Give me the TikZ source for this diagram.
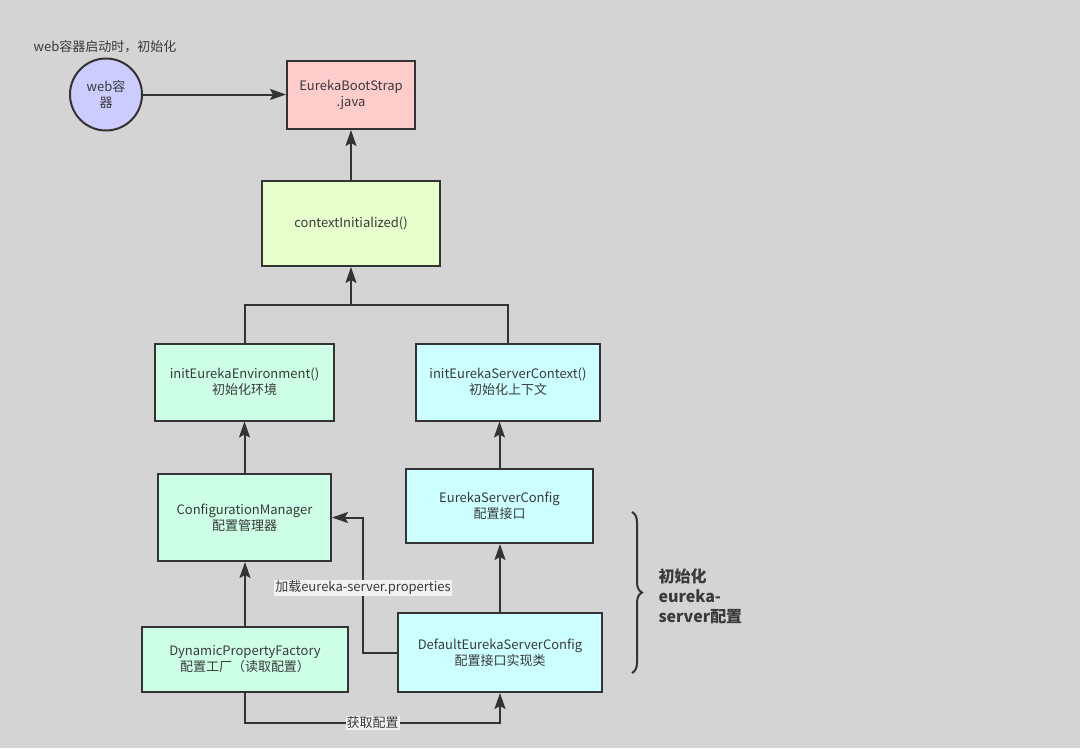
\documentclass[tikz,border=0pt]{standalone}
\usepackage{fontspec}
\setmainfont{Noto Sans CJK SC}
\usetikzlibrary{arrows.meta,decorations.pathreplacing}
\definecolor{bg}{HTML}{D5D4D5}
\definecolor{ln}{HTML}{333333}
\definecolor{txt}{HTML}{3A3A3A}
\definecolor{fpink}{HTML}{FFCCCC}
\definecolor{fyel}{HTML}{E6FFCC}
\definecolor{fmint}{HTML}{CCFFE6}
\definecolor{fcyan}{HTML}{CCFFFF}
\definecolor{fblue}{HTML}{CCCCFF}
\definecolor{lblbg}{HTML}{F2F2F2}
\begin{document}
\begin{tikzpicture}[x=1pt,y=-1pt,
  every node/.style={text=txt,font=\fontsize{13}{16}\selectfont},
  box/.style={draw=ln,line width=2pt,rectangle,align=center,inner sep=2pt},
  arr/.style={draw=ln,line width=2pt,-{Stealth[length=16pt,width=11pt,inset=3pt]}},
  con/.style={draw=ln,line width=2pt},
  lbl/.style={fill=lblbg,inner sep=1pt,font=\fontsize{13}{16}\selectfont}
]
\fill[bg] (0,0) rectangle (1080,748);
\useasboundingbox (0,0) rectangle (1080,748);

\node (toplbl) at (105,47) {web容器启动时，初始化};
\node[circle,draw=ln,line width=2pt,fill=fblue,minimum size=72pt,align=center,inner sep=0pt] (web) at (106,94.5) {web容\\器};
\node[box,fill=fpink,minimum width=128pt,minimum height=68pt] (ebs) at (351,95) {EurekaBootStrap\\.java};
\node[box,fill=fyel,minimum width=178pt,minimum height=85pt] (ci) at (351,223.5) {contextInitialized()};
\node[box,fill=fmint,minimum width=179pt,minimum height=77pt] (iee) at (244.5,382) {initEurekaEnvironment()\\初始化环境};
\node[box,fill=fcyan,minimum width=184pt,minimum height=77pt] (iesc) at (508,382) {initEurekaServerContext()\\初始化上下文};
\node[box,fill=fmint,minimum width=173pt,minimum height=87pt] (cm) at (244.5,517.5) {ConfigurationManager\\配置管理器};
\node[box,fill=fcyan,minimum width=187pt,minimum height=74pt] (esc) at (499.5,506) {EurekaServerConfig\\配置接口};
\node[box,fill=fmint,minimum width=206pt,minimum height=65pt] (dpf) at (245,659.5) {DynamicPropertyFactory\\配置工厂（读取配置）};
\node[box,fill=fcyan,minimum width=204pt,minimum height=79pt] (desc) at (500,652.5) {DefaultEurekaServerConfig\\配置接口实现类};

\coordinate (j) at (351,305);

\draw[arr] (web.east) -- (web.east -| ebs.west);
\draw[arr] (ci) -- (ebs);
\draw[con] (iee.north) -- (iee.north |- j) -| (iesc.north);
\draw[arr] (j) -- (ci.south);
\draw[arr] (cm) -- (iee);
\draw[arr] (esc.north) -- (esc.north |- iesc.south);
\draw[arr] (desc.north) -- (desc.north |- esc.south);
\draw[arr] (dpf.north) -- (dpf.north |- cm.south);
\draw[arr] (dpf.south) -- ++(0,30) -| node[lbl,pos=0.25] (l1) {获取配置} (desc.south);
\draw[arr] (desc.west) -- ++(-34,0) |- node[lbl,pos=0.24] (l2) {加载eureka-server.properties} (cm.east);

\coordinate (bt) at (632,512);
\coordinate (bb) at (632,673);
\draw[con,decorate,decoration={brace,amplitude=10pt}] (bt) -- (bb);
\node[anchor=west,align=left,font=\fontsize{16}{20}\selectfont\bfseries] (blbl) at (655,596) {初始化\\eureka-\\server配置};
\end{tikzpicture}
\end{document}
